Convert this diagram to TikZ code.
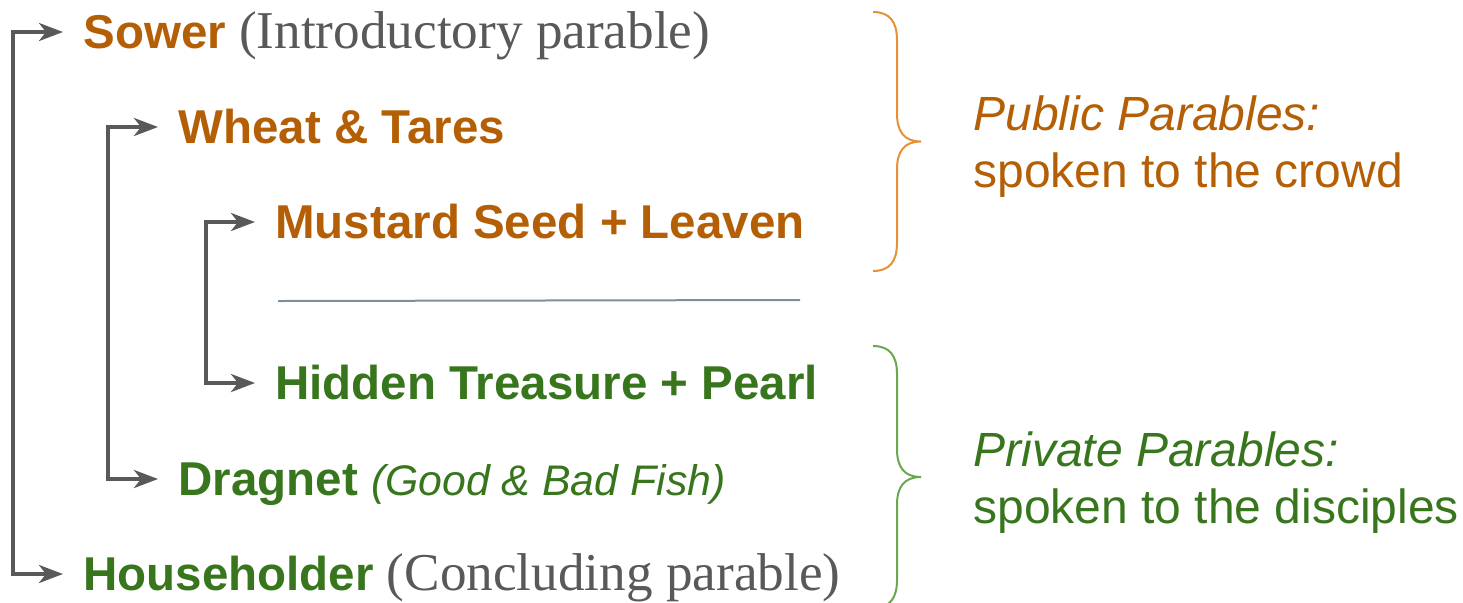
\documentclass[tikz,border=0pt]{standalone}
\usepackage{fontspec}
\setmainfont{Liberation Serif}
\setsansfont{Liberation Sans}
\usepackage{xcolor}
\usepackage{tikz}
\usetikzlibrary{arrows.meta, positioning, calc}

\definecolor{pubtext}{HTML}{B45F06}
\definecolor{privtext}{HTML}{38761D}
\definecolor{notegray}{HTML}{595959}
\definecolor{pubbrace}{HTML}{E69138}
\definecolor{privbrace}{HTML}{6AA84F}
\definecolor{splitline}{HTML}{7E8F9A}

\newcommand{\paranote}[1]{{\rmfamily\mdseries\color{notegray}\fontsize{26.6}{31}\selectfont #1}}

\tikzset{
    parable/.style={anchor=base west, inner sep=0pt, font=\sffamily\bfseries\fontsize{23.75}{28}\selectfont},
    groupnote/.style={anchor=base west, inner sep=0pt, font=\sffamily\fontsize{24}{28.5}\selectfont},
    link/.style={draw=notegray, line width=1.8pt, {Stealth[length=12pt,width=9pt,inset=3.5pt]}-{Stealth[length=12pt,width=9pt,inset=3.5pt]}}
}

\begin{document}
\begin{tikzpicture}[x=0.5pt, y=-0.5pt]
    \useasboundingbox (0,0) rectangle (1463,602);

    % parables, outer to inner
    \node[parable, pubtext] (sower) at (83,48) {Sower \paranote{(Introductory parable)}};
    \node[parable, pubtext] (wheat) at (178,143) {Wheat \& Tares};
    \node[parable, pubtext] (mustard) at (275,238) {Mustard Seed + Leaven};
    \node[parable, privtext] (treasure) at (275,399) {Hidden Treasure + Pearl};
    \node[parable, privtext] (dragnet) at (178,495) {Dragnet {\mdseries\itshape\fontsize{21.4}{25}\selectfont (Good \& Bad Fish)}};
    \node[parable, privtext] (householder) at (83,590) {Householder \paranote{(Concluding parable)}};

    \draw[splitline, line width=1pt] (278,301) -- (800,300);

    % arrow ends
    \foreach \n in {sower, wheat, mustard, treasure, dragnet, householder}
        \coordinate (\n In) at ($(\n.base west)+(-20,-16)$);

    \draw[link] (sowerIn) -- ++(-50,0) |- (householderIn);
    \draw[link] (wheatIn) -- ++(-50,0) |- (dragnetIn);
    \draw[link] (mustardIn) -- ++(-49,0) |- (treasureIn);

    % braces
    \foreach \ytop/\ybot/\bcol in {12/271/pubbrace, 346/608/privbrace} {
        \pgfmathsetmacro\ymid{(\ytop+\ybot)/2}
        \draw[\bcol, line width=1pt]
            (873,\ytop) .. controls (890,\ytop) and (897,\ytop+10) .. (897,\ytop+28)
            -- (897,\ymid-28) .. controls (897,\ymid-10) and (904,\ymid) .. (921,\ymid)
            .. controls (904,\ymid) and (897,\ymid+10) .. (897,\ymid+28)
            -- (897,\ybot-28) .. controls (897,\ybot-10) and (890,\ybot) .. (873,\ybot);
    }

    \node[groupnote, pubtext] (pubhead) at (973,130) {\itshape Public Parables:};
    \node[groupnote, pubtext] (pubbody) at (973,187) {spoken to the crowd};
    \node[groupnote, privtext] (privhead) at (973,466) {\itshape Private Parables:};
    \node[groupnote, privtext] (privbody) at (973,523) {spoken to the disciples};
\end{tikzpicture}
\end{document}
